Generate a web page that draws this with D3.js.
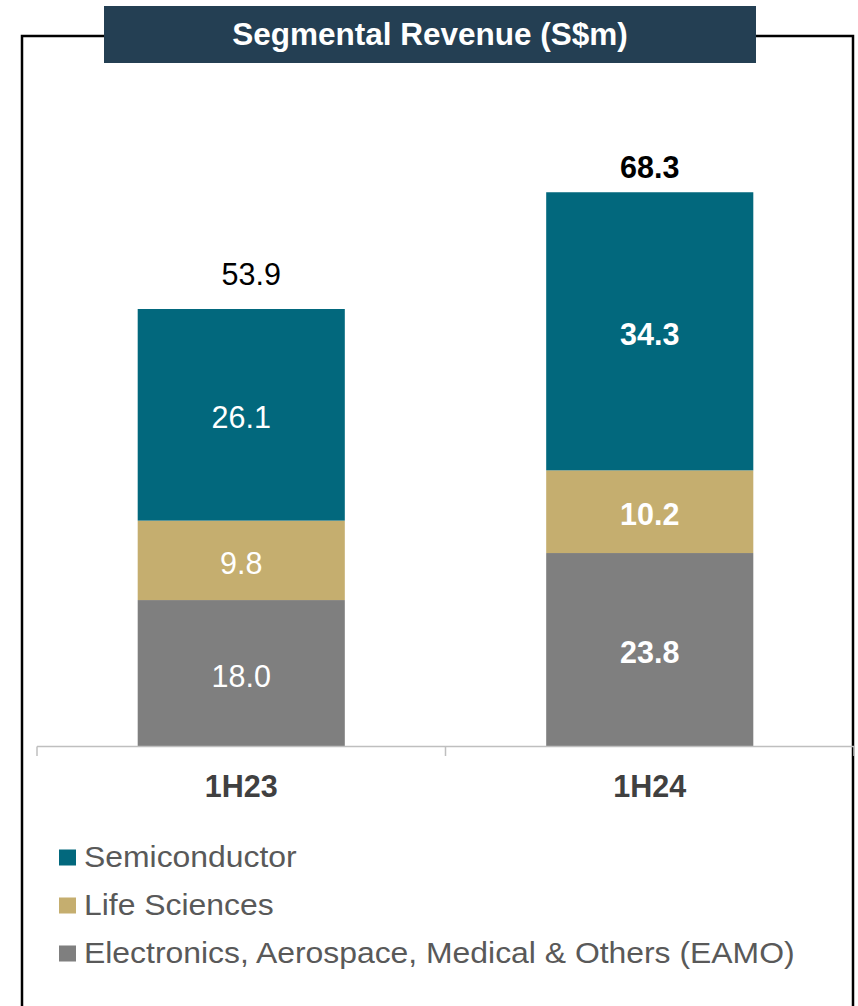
<!DOCTYPE html>
<html>
<head>
<meta charset="utf-8">
<script src="https://cdn.jsdelivr.net/npm/d3@7"></script>
<style>
  html, body { margin: 0; padding: 0; background: #ffffff; }
  svg { display: block; font-family: "Liberation Sans", Arial, sans-serif; }
</style>
</head>
<body>
<svg id="chart" width="858" height="1006"></svg>
<script>
// ---- Data ----
const categories = ["1H23", "1H24"];
const seriesNames = ["Electronics, Aerospace, Medical & Others (EAMO)", "Life Sciences", "Semiconductor"];
const eamo = [18.0, 23.8];
const lifeSciences = [9.8, 10.2];
const semiconductor = [26.1, 34.3];
const totals = [53.9, 68.3];
const legendOrder = ["Semiconductor", "Life Sciences", "Electronics, Aerospace, Medical & Others (EAMO)"];
const titleText = "Segmental Revenue (S$m)";

// ---- Styles ----
const colors = {
  "Semiconductor": "#02687d",
  "Life Sciences": "#c5ae6f",
  "Electronics, Aerospace, Medical & Others (EAMO)": "#7f7f7f"
};
const boldLabels = [false, true]; // per category label weight
const totalGap = [24, 14];
const totalShift = [10, 0];

const svg = d3.select("#chart");

// frame
svg.append("rect")
  .attr("x", 22).attr("y", 36)
  .attr("width", 831).attr("height", 1000)
  .attr("fill", "none").attr("stroke", "#000").attr("stroke-width", 2.5);

// title
svg.append("rect")
  .attr("x", 104).attr("y", 6).attr("width", 652).attr("height", 57)
  .attr("fill", "#243f53");
svg.append("text")
  .attr("x", 430).attr("y", 44.5)
  .attr("text-anchor", "middle")
  .attr("fill", "#ffffff").attr("font-weight", "bold").attr("font-size", 31.5)
  .text(titleText);

// scales
const x = d3.scaleBand().domain(categories).range([37, 854]).paddingInner(0.493).paddingOuter(0.2465);
const y = d3.scaleLinear().domain([0, 53.9]).range([746, 309]);

const rows = categories.map((c, i) => ({
  cat: c,
  "Electronics, Aerospace, Medical & Others (EAMO)": eamo[i],
  "Life Sciences": lifeSciences[i],
  "Semiconductor": semiconductor[i]
}));
const stack = d3.stack().keys(seriesNames)(rows);

const g = svg.append("g");
stack.forEach(layer => {
  g.selectAll(null).data(layer).enter().append("rect")
    .attr("x", d => x(d.data.cat))
    .attr("width", x.bandwidth())
    .attr("y", d => y(d[1]))
    .attr("height", d => y(d[0]) - y(d[1]))
    .attr("fill", colors[layer.key]);
  g.selectAll(null).data(layer).enter().append("text")
    .attr("x", d => x(d.data.cat) + x.bandwidth() / 2)
    .attr("y", d => (y(d[0]) + y(d[1])) / 2 + 13.5)
    .attr("text-anchor", "middle")
    .attr("fill", "#ffffff")
    .attr("font-size", 30.5)
    .attr("font-weight", (d, i) => boldLabels[i] ? "bold" : "normal")
    .text(d => (d[1] - d[0]).toFixed(1));
});

// totals
g.selectAll(null).data(categories).enter().append("text")
  .attr("x", (d, i) => x(d) + x.bandwidth() / 2 + totalShift[i])
  .attr("y", (d, i) => y(totals[i]) - totalGap[i])
  .attr("text-anchor", "middle")
  .attr("fill", "#000000")
  .attr("font-size", 30.5)
  .attr("font-weight", (d, i) => boldLabels[i] ? "bold" : "normal")
  .text((d, i) => totals[i].toFixed(1));

// axis
const axis = svg.append("g").attr("transform", "translate(0,746.5)");
axis.append("line").attr("x1", 37).attr("x2", 854).attr("y1", 0).attr("y2", 0)
  .attr("stroke", "#bfbfbf").attr("stroke-width", 1.5);
const step = x.step();
const tickXs = d3.range(categories.length + 1).map(i => 37 + i * step);
axis.selectAll(null).data(tickXs).enter().append("line")
  .attr("x1", d => d).attr("x2", d => d).attr("y1", 0).attr("y2", 9.5)
  .attr("stroke", "#bfbfbf").attr("stroke-width", 1.5);
axis.selectAll(null).data(categories).enter().append("text")
  .attr("x", d => x(d) + x.bandwidth() / 2)
  .attr("y", 50)
  .attr("text-anchor", "middle")
  .attr("fill", "#404040").attr("font-weight", "bold").attr("font-size", 30.5)
  .text(d => d);

// legend
const legend = svg.append("g");
legendOrder.forEach((name, i) => {
  const cy = 857.5 + i * 48;
  legend.append("rect").attr("x", 59).attr("y", cy - 8).attr("width", 17).attr("height", 16)
    .attr("fill", colors[name]);
  legend.append("text")
    .attr("transform", `translate(84,${cy + 9}) scale(1.1,1)`)
    .attr("fill", "#595959").attr("font-size", 29)
    .text(name);
});
</script>
</body>
</html>
